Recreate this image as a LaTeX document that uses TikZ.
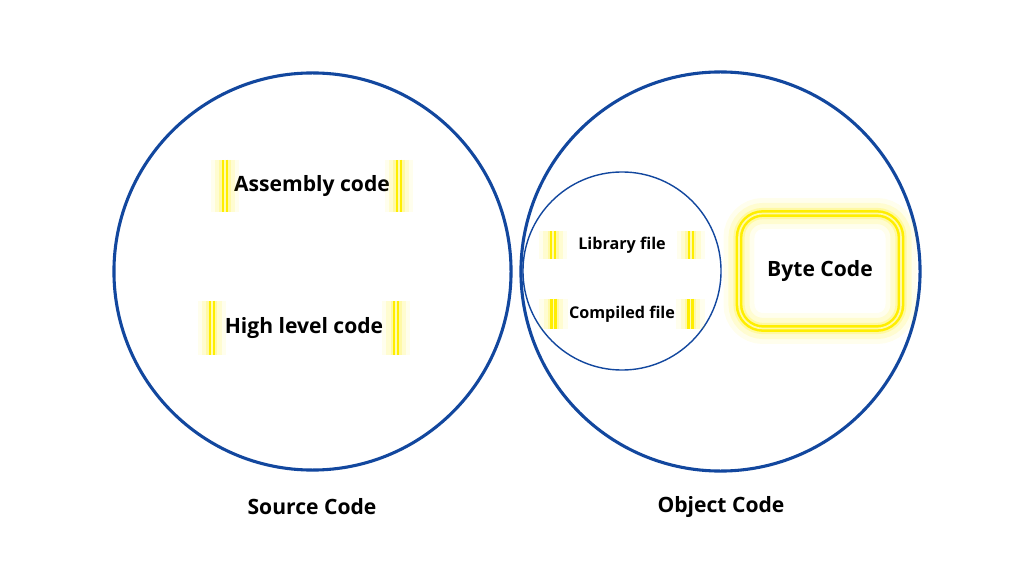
\documentclass[tikz,border=0pt]{standalone}
\usepackage{fontspec}
\setmainfont{Open Sans}
\usetikzlibrary{positioning}

\definecolor{ringblue}{RGB}{18,71,158}
\definecolor{glowyellow}{RGB}{255,238,0}

\tikzset{
  ring/.style={circle, draw=ringblue, line width=2.2pt, inner sep=0pt},
  thinring/.style={circle, draw=ringblue, line width=1pt, inner sep=0pt},
  bigtext/.style={font=\fontsize{15}{18}\selectfont\bfseries},
  smalltext/.style={font=\fontsize{11.5}{14}\selectfont\bfseries},
  glowbar/.style={draw=glowyellow, line width=1.6pt, double=yellow!30, double distance=1.2pt,
    preaction={draw=glowyellow, line width=20pt, opacity=0.07},
    preaction={draw=glowyellow, line width=14pt, opacity=0.12},
    preaction={draw=glowyellow, line width=8pt, opacity=0.2}},
  bytebox/.style={rectangle, rounded corners=0.6cm, draw=glowyellow, line width=1.8pt,
    double=yellow!35, double distance=1.2pt,
    minimum width=4.05cm, minimum height=2.875cm,
    preaction={draw=glowyellow, line width=22pt, opacity=0.07},
    preaction={draw=glowyellow, line width=15pt, opacity=0.12},
    preaction={draw=glowyellow, line width=8pt, opacity=0.22}},
}

\begin{document}
\begin{tikzpicture}[x=0.025cm, y=-0.025cm]
  \useasboundingbox (0,0) rectangle (1024,576);

  % the two big circles
  \node (src) [ring, minimum size=9.925cm] at (312.5,271.5) {};
  \node (obj) [ring, minimum size=9.975cm] at (720.5,271.5) {};
  \node (lib) [thinring, minimum size=4.95cm] at (622,271) {};

  % source code side
  \node (asm) [bigtext, minimum height=1.3cm, inner xsep=0.22cm] at (312,186) {Assembly code};
  \draw[glowbar] (asm.north west) -- (asm.south west);
  \draw[glowbar] (asm.north east) -- (asm.south east);
  \node (high) [bigtext, minimum height=1.35cm, inner xsep=0.32cm] at (304,328) {High level code};
  \draw[glowbar] (high.north west) -- (high.south west);
  \draw[glowbar] (high.north east) -- (high.south east);

  % object code side
  \node (libf) [smalltext, minimum height=0.7cm, inner xsep=0.62cm] at (622,245) {Library file};
  \draw[glowbar] (libf.north west) -- (libf.south west);
  \draw[glowbar] (libf.north east) -- (libf.south east);
  \node (comp) [smalltext, minimum height=0.75cm, inner xsep=0.38cm] at (622,314) {Compiled file};
  \draw[glowbar] (comp.north west) -- (comp.south west);
  \draw[glowbar] (comp.north east) -- (comp.south east);
  \node (byte) [bytebox, bigtext] at (820,271) {Byte Code};

  % captions
  \node (srccap) [bigtext] at (312,507) {Source Code};
  \node (objcap) [bigtext] at (721,507) {Object Code};
\end{tikzpicture}
\end{document}
